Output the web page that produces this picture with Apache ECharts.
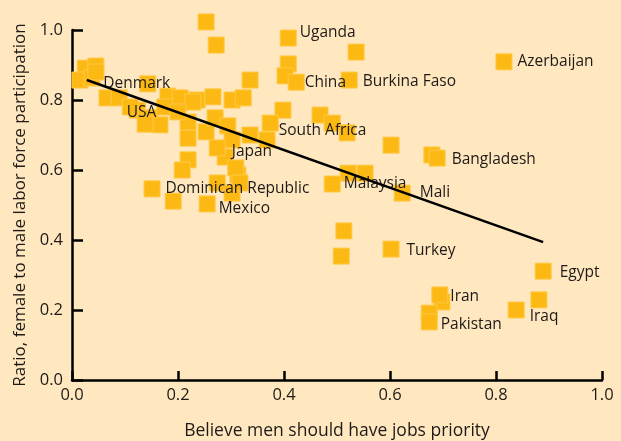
<!DOCTYPE html>
<html><head><meta charset="utf-8">
<script src="https://cdn.jsdelivr.net/npm/echarts@6/dist/echarts.min.js"></script>
<style>html,body{margin:0;padding:0;background:#FFE8C0;}#c{width:621px;height:441px;}</style>
</head><body><div id="c"></div>
<script>
// Unlabelled countries: [x, y]
const otherPoints = [
  [0.025,0.891],[0.045,0.897],[0.015,0.857],[0.038,0.863],[0.066,0.806],[0.089,0.806],
  [0.143,0.846],[0.123,0.771],[0.147,0.749],[0.166,0.729],[0.138,0.731],[0.181,0.811],
  [0.204,0.806],[0.236,0.800],[0.266,0.809],[0.302,0.800],[0.323,0.806],[0.336,0.857],
  [0.228,0.794],[0.253,1.023],[0.272,0.957],[0.536,0.937],[0.408,0.903],[0.402,0.869],
  [0.398,0.771],[0.468,0.757],[0.491,0.734],[0.519,0.706],[0.602,0.671],[0.368,0.686],
  [0.336,0.700],[0.219,0.737],[0.219,0.691],[0.253,0.709],[0.270,0.749],[0.294,0.726],
  [0.289,0.637],[0.302,0.686],[0.313,0.586],[0.309,0.606],[0.219,0.629],[0.208,0.600],
  [0.191,0.511],[0.274,0.563],[0.302,0.534],[0.317,0.563],[0.679,0.643],[0.521,0.591],
  [0.553,0.591],[0.513,0.426],[0.508,0.354],[0.698,0.223],[0.674,0.191],[0.881,0.229],
  [0.175,0.780],[0.200,0.766]
];
// Labelled countries
const labelNames = ["Uganda","China","Burkina Faso","Azerbaijan","Denmark","USA","South Africa","Japan",
  "Dominican Republic","Mexico","Malaysia","Mali","Bangladesh","Turkey","Egypt","Iran","Pakistan","Iraq"];
const labelX = [0.408,0.423,0.523,0.815,0.045,0.110,0.374,0.274,0.151,0.255,0.491,0.623,0.689,0.602,0.889,0.694,0.674,0.838];
const labelY = [0.977,0.851,0.857,0.909,0.880,0.780,0.734,0.663,0.546,0.503,0.560,0.534,0.634,0.374,0.311,0.243,0.166,0.200];
// Trend line endpoints
const trendX = [0.028, 0.889];
const trendY = [0.857, 0.394];

// label layout (pixel offsets), kept separate from data
const labelOffsets = {
  "Uganda":[3,-5],"China":[0,0],"Burkina Faso":[5,2],"Azerbaijan":[5,0],"Denmark":[-1,12],
  "USA":[-12,6],"South Africa":[0,7],"Japan":[6,4],"Dominican Republic":[5,0],"Mexico":[3,5],
  "Malaysia":[3,0],"Mali":[9,-1],"Bangladesh":[6,1],"Turkey":[7,1],"Egypt":[8,1],"Iran":[2,2],
  "Pakistan":[3,3],"Iraq":[5,7]
};

const markerStyle = {color:'#FDB913', borderColor:'#FFC846', borderWidth:1, opacity:1};
const labelledData = labelNames.map((n,i)=>{
  const o = labelOffsets[n] || [0,0];
  return {name:n, value:[labelX[i], labelY[i]],
    label:{show:true, position:'right', distance:o[0], offset:[0,o[1]], formatter:n}};
});

const chart = echarts.init(document.getElementById('c'), null, {renderer:'canvas'});
const font = '"Open Sans", sans-serif';
const txt = '#1f1a17';
chart.setOption({
  backgroundColor:'#FFE8C0',
  animation:false,
  grid:{left:72, right:19, top:30, bottom:61, containLabel:false, outerBoundsMode:'none'},
  xAxis:{type:'value', min:0, max:1, interval:0.2,
    name:'Believe men should have jobs priority', nameLocation:'middle', nameGap:42,
    nameTextStyle:{fontFamily:font, fontSize:17.5, color:txt},
    axisLine:{show:true, lineStyle:{color:'#000', width:2.5}},
    axisTick:{show:true, inside:true, length:9, lineStyle:{color:'#000', width:2.5}},
    axisLabel:{fontFamily:font, fontSize:16.5, color:txt, margin:7, formatter:v=>v.toFixed(1)},
    splitLine:{show:false}},
  yAxis:{type:'value', min:0, max:1, interval:0.2,
    name:'Ratio, female to male labor force participation', nameLocation:'middle', nameGap:43,
    nameTextStyle:{fontFamily:font, fontSize:17, color:txt},
    axisLine:{show:true, lineStyle:{color:'#000', width:2.5}},
    axisTick:{show:true, inside:true, length:11, lineStyle:{color:'#000', width:2.5}},
    axisLabel:{fontFamily:font, fontSize:16.5, color:txt, margin:9, formatter:v=>v.toFixed(1)},
    splitLine:{show:false}},
  series:[
    {type:'scatter', symbol:'rect', symbolSize:16, itemStyle:markerStyle, data:otherPoints, z:2, clip:false},
    {type:'scatter', symbol:'rect', symbolSize:16, itemStyle:markerStyle, data:labelledData, z:3, clip:false,
      label:{fontFamily:font, fontSize:15.5, color:txt}},
    {type:'line', data:trendX.map((x,i)=>[x,trendY[i]]), symbol:'none', z:4,
      lineStyle:{color:'#000', width:2.5}}
  ]
});
</script></body></html>
